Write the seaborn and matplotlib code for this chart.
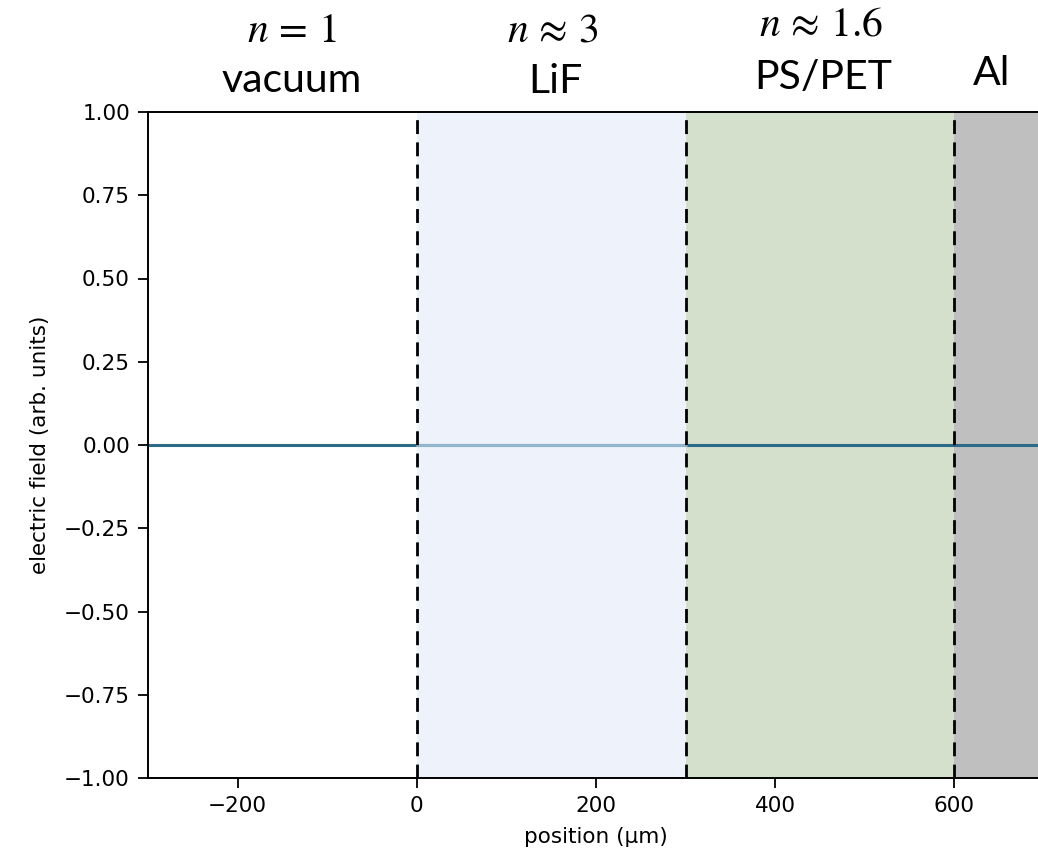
import numpy as np
import pandas as pd
import seaborn as sns
import matplotlib.pyplot as plt

# Data
positions = [-300, 0, 300, 600, 700]
field = [0.0, 0.0, 0.0, 0.0, 0.0]
boundaries = [0, 300, 600]
region_starts = [0, 300, 600]
region_ends = [300, 600, 700]
region_colors = ["#eef2fa", "#d4dfcc", "#bfbfbf"]
index_labels = [r"$n\,=\,1$", r"$n\,\approx\,3$", r"$n\,\approx\,1.6$"]
material_labels = ["vacuum", "LiF", "PS/PET", "Al"]

sns.set_style("ticks")
plt.rcParams['mathtext.fontset'] = 'stix'
for k in ["axes.edgecolor", "xtick.color", "ytick.color", "axes.labelcolor", "text.color"]:
    plt.rcParams[k] = "black"

fig = plt.figure(figsize=(10.38, 8.58), dpi=100)
ax = fig.add_axes([148/1038, 1-778/858, (1044-148)/1038, (778-112)/858])

df = pd.DataFrame({"position": positions, "field": field})
sns.lineplot(data=df, x="position", y="field", ax=ax, color="#2b6a88", lw=2.2, zorder=1)

for s, e, c in zip(region_starts, region_ends, region_colors):
    ax.axvspan(s, e, color=c, zorder=0, lw=0)
ax.plot([0, 300], [0, 0], color="#93b6cf", lw=2.2, zorder=2)

for b in boundaries:
    ax.axvline(b, color="black", ls=(0, (5, 3)), lw=2, zorder=3)

ax.set_xlim(-300, 700)
ax.set_ylim(-1, 1)
ax.set_yticks(np.arange(-1, 1.01, 0.25))
ax.set_xticks([-200, 0, 200, 400, 600])
ax.tick_params(labelsize=15.5, length=7, width=1.3, pad=6)
for sp in ax.spines.values():
    sp.set_linewidth(1.4)
ax.set_xlabel("position (µm)", fontsize=15.5, labelpad=8)
ax.set_ylabel("electric field (arb. units)", fontsize=15.5, labelpad=10)

# top annotations (pixel positions in figure)
W, H = 1038, 858
idx_xy = [(292, 42), (553, 42), (821, 36)]
mat_xy = [(292, 92), (555, 93), (823, 89), (992, 85)]
for (x, y), t in zip(idx_xy, index_labels):
    fig.text(x / W, 1 - y / H, t, ha="center", va="baseline", fontsize=30)
for (x, y), t in zip(mat_xy, material_labels):
    fig.text(x / W, 1 - y / H, t, ha="center", va="baseline", fontsize=29.5, family="Lato")

fig.savefig("out.png", dpi=100)
